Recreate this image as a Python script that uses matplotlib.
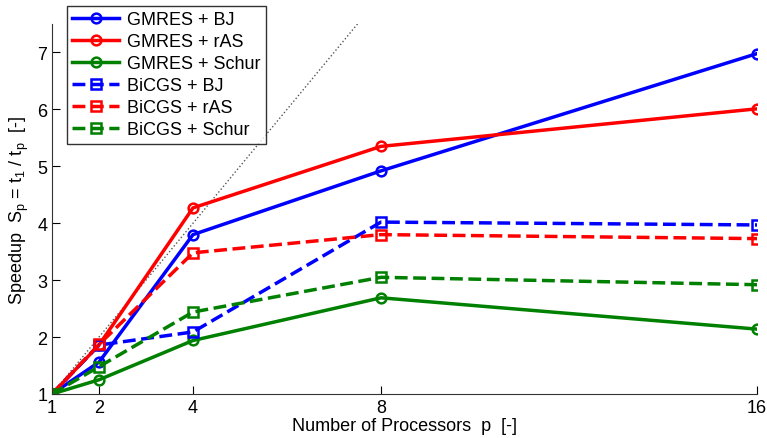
import matplotlib
matplotlib.use('Agg')
import matplotlib.pyplot as plt

plt.rcParams['font.family'] = ['Liberation Sans', 'DejaVu Sans']
plt.rcParams['mathtext.default'] = 'regular'

procs = [1, 2, 4, 8, 16]
gmres_bj = [1.0, 1.56, 3.80, 4.92, 6.98]
gmres_ras = [1.0, 1.86, 4.27, 5.35, 6.01]
gmres_schur = [1.0, 1.25, 1.94, 2.69, 2.14]
bicgs_bj = [1.0, 1.86, 2.09, 4.02, 3.97]
bicgs_ras = [1.0, 1.87, 3.48, 3.80, 3.73]
bicgs_schur = [1.0, 1.48, 2.44, 3.05, 2.92]
ideal = [1, 16]

fig = plt.figure(figsize=(7.67, 4.39), dpi=100)
ax = fig.add_axes([52/767, 1-395/439, 705/767, 370/439])

ax.plot(ideal, ideal, ':', color='#555555', lw=1)
style = dict(lw=2.5, ms=7, mfc='none', mew=1.8)
ax.plot(procs, gmres_bj, '-o', color='blue', label='GMRES + BJ', **style)
ax.plot(procs, gmres_ras, '-o', color='red', label='GMRES + rAS', **style)
ax.plot(procs, gmres_schur, '-o', color='green', label='GMRES + Schur', **style)
ax.plot(procs, bicgs_bj, '--s', color='blue', label='BiCGS + BJ', **style)
ax.plot(procs, bicgs_ras, '--s', color='red', label='BiCGS + rAS', **style)
ax.plot(procs, bicgs_schur, '--s', color='green', label='BiCGS + Schur', **style)

ax.set_xlim(1, 16)
ax.set_ylim(1, 7.5)
ax.set_xticks(procs)
ax.set_yticks([1, 2, 3, 4, 5, 6, 7])
ax.tick_params(direction='in', labelsize=13, length=6, width=0.8)
ax.spines['top'].set_visible(False)
ax.spines['right'].set_visible(False)
for s in ['left', 'bottom']:
    ax.spines[s].set_color('#333333')

ax.set_xlabel('Number of Processors  p  [-]', fontsize=13, labelpad=1)
ax.set_ylabel('Speedup  S$_p$ = t$_1$ / t$_p$  [-]', fontsize=13, labelpad=4)

leg = ax.legend(loc='upper left', bbox_to_anchor=(15/705, 1.05), fontsize=13, frameon=True,
                fancybox=False, edgecolor='black', handlelength=2.6, borderpad=0.3,
                labelspacing=0.28, handletextpad=0.4, borderaxespad=0)
leg.get_frame().set_linewidth(1)

fig.savefig('out.png', dpi=100)
